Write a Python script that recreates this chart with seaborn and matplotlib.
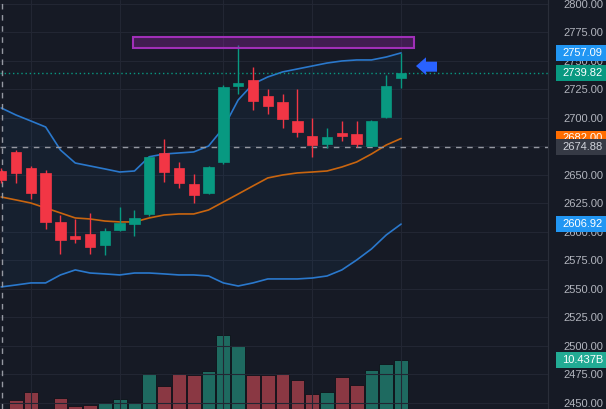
import numpy as np
import pandas as pd
import seaborn as sns
import matplotlib
matplotlib.use("Agg")
import matplotlib.pyplot as plt
from matplotlib.patches import Rectangle, Polygon
import matplotlib.transforms as mtransforms

# ---------------- data ----------------
opens = [2653.5, 2670.4, 2655.9, 2651.5, 2609.0, 2596.5, 2598.0, 2588.6, 2601.8, 2607.0,
         2615.5, 2669.6, 2656.4, 2642.1, 2634.0, 2661.1, 2728.3, 2733.3, 2719.6, 2713.8,
         2697.4, 2684.5, 2677.2, 2687.1, 2686.0, 2675.7, 2701.1, 2735.4]
highs = [2656.0, 2672.0, 2657.9, 2654.4, 2614.9, 2611.4, 2616.7, 2603.5, 2622.2, 2619.3,
         2667.0, 2681.3, 2661.7, 2650.9, 2658.0, 2729.0, 2764.0, 2745.0, 2725.2, 2721.0,
         2725.4, 2699.7, 2690.9, 2697.4, 2697.4, 2698.5, 2737.7, 2756.8]
lows = [2643.0, 2643.0, 2628.9, 2602.6, 2580.7, 2590.4, 2580.7, 2579.8, 2600.5, 2596.5,
        2614.0, 2644.0, 2638.9, 2625.4, 2633.0, 2660.0, 2721.0, 2707.0, 2703.5, 2691.5,
        2683.0, 2666.0, 2673.4, 2679.8, 2674.3, 2675.0, 2700.0, 2726.6]
closes = [2645.6, 2652.0, 2634.0, 2609.0, 2593.0, 2594.1, 2587.1, 2600.9, 2608.2, 2612.5,
          2666.0, 2652.9, 2643.2, 2632.5, 2657.3, 2727.5, 2730.4, 2714.9, 2710.8, 2699.1,
          2687.5, 2676.3, 2683.6, 2684.5, 2677.2, 2697.6, 2728.1, 2739.82]
volume_b = [2.3, 4.01, 5.30, 2.4, 4.34, 3.05, 3.21, 3.69, 4.17, 3.69,
            8.35, 6.26, 8.35, 8.03, 8.67, 14.45, 12.68, 8.03, 8.03, 8.35,
            7.23, 4.98, 5.30, 7.71, 6.42, 8.83, 9.79, 10.437]
bb_upper = [2708.8, 2702.6, 2697.4, 2692.1, 2671.9, 2660.5, 2657.9, 2655.3, 2652.6, 2653.5,
            2666.0, 2668.4, 2669.3, 2670.2, 2675.4, 2691.2, 2715.8, 2729.8, 2736.0, 2740.4,
            2743.0, 2745.6, 2748.2, 2750.0, 2750.9, 2750.9, 2753.5, 2757.09]
bb_basis = [2630.7, 2628.1, 2625.4, 2621.1, 2616.7, 2612.3, 2611.4, 2609.6, 2608.8, 2608.8,
            2612.3, 2614.9, 2615.8, 2615.8, 2619.3, 2626.3, 2633.3, 2640.4, 2647.4, 2650.0,
            2651.8, 2652.6, 2653.5, 2657.0, 2661.4, 2668.4, 2676.3, 2682.00]
bb_lower = [2551.8, 2553.5, 2555.3, 2555.3, 2562.3, 2566.7, 2564.0, 2563.2, 2562.3, 2564.0,
            2564.0, 2563.2, 2562.3, 2562.3, 2561.4, 2555.3, 2552.6, 2555.3, 2558.8, 2558.8,
            2558.8, 2559.6, 2561.4, 2566.7, 2575.4, 2585.1, 2597.4, 2606.92]
price_ticks = [2450, 2475, 2500, 2525, 2550, 2575, 2600, 2625, 2650, 2675,
               2700, 2725, 2750, 2775, 2800]
time_grid_idx = [2, 8, 15, 21, 27]
zone_low, zone_high = 2761.4, 2771.0
zone_start, zone_end = 8.9, 27.9
crosshair_price = 2674.88
crosshair_idx = 0.05

# ---------------- style ----------------
BG = "#161a25"
GRID = "#222633"
UP = "#089981"
DOWN = "#f23645"
VOL_UP = "#1e6a60"
VOL_DOWN = "#8a3843"
TXT = "#b2b5be"

sns.set_theme(style="dark")
plt.rcParams["font.family"] = ["Liberation Sans", "DejaVu Sans"]

n = len(opens)
idx = np.arange(n)
df = pd.DataFrame({"i": idx, "open": opens, "high": highs, "low": lows,
                   "close": closes, "vol": volume_b,
                   "upper": bb_upper, "basis": bb_basis, "lower": bb_lower})
df["dir"] = np.where(df["close"] >= df["open"], "up", "down")

W, H = 606, 409
fig = plt.figure(figsize=(W / 100, H / 100), dpi=100)
fig.patch.set_facecolor(BG)
axw = 548 / W
ax_vol = fig.add_axes([0, 0, axw, 1])
ax = fig.add_axes([0, 0, axw, 1], sharex=ax_vol)
ax_vol.set_facecolor(BG)
ax.patch.set_visible(False)

# volume
sns.barplot(data=df, x="i", y="vol", hue="dir", palette={"up": VOL_UP, "down": VOL_DOWN},
            dodge=False, native_scale=True, width=0.93, legend=False, ax=ax_vol,
            edgecolor="#0f1219", linewidth=0.6, saturation=1)
ax_vol.set_ylim(2.569, 68.24)
ax_vol.axis("off")

# grid
for p in price_ticks:
    ax.axhline(p, color=GRID, lw=0.8, zorder=0.5)
for g in time_grid_idx:
    ax.axvline(g, color=GRID, lw=0.8, zorder=0.5)

# Bollinger bands
ax.fill_between(df["i"], df["lower"], df["upper"], color="#2196f3", alpha=0.05, lw=0, zorder=1)
sns.lineplot(data=df, x="i", y="upper", ax=ax, color="#2a78cc", lw=1.2, zorder=2)
sns.lineplot(data=df, x="i", y="lower", ax=ax, color="#2a78cc", lw=1.2, zorder=2)
sns.lineplot(data=df, x="i", y="basis", ax=ax, color="#c9650f", lw=1.2, zorder=2)

# candles
ccol = np.where(df["dir"] == "up", UP, DOWN)
ax.vlines(df["i"], df["low"], df["high"], colors=ccol, lw=1.0, zorder=3)
body_bot = np.minimum(df["open"], df["close"])
body_h = np.maximum(np.abs(df["close"] - df["open"]), 1.3)
ax.bar(df["i"], body_h, bottom=body_bot, width=0.7, color=ccol, edgecolor=ccol,
       lw=0.5, zorder=4)

# zone rectangle
ax.add_patch(Rectangle((zone_start, zone_low), zone_end - zone_start, zone_high - zone_low,
                       facecolor=(0.61, 0.15, 0.69, 0.32), edgecolor="#a02fb8", lw=1.5,
                       zorder=5))

# price lines
last = closes[-1]
ax.axhline(last, color=UP, lw=1.0, ls=(0, (1, 2)), zorder=2.5)
ax.axhline(crosshair_price, color="#9598a1", lw=1.0, ls=(0, (4, 4)), zorder=2.5, clip_on=False)
ax.axvline(crosshair_idx, color="#9598a1", lw=1.0, ls=(0, (4, 4)), zorder=2.5)

ax.set_xlim(-0.081, 36.92)
ax.set_ylim(2444.7, 2803.5)

# axis labels
ax.set_xticks([])
ax.set_xlabel("")
ax.set_ylabel("")
ax.yaxis.tick_right()
ax.set_yticks(price_ticks)
ax.set_yticklabels([f"{p:.2f}" for p in price_ticks])
ax.tick_params(axis="y", length=0, pad=10.8, labelsize=8, labelcolor=TXT)
for s in ["top", "left", "bottom"]:
    ax.spines[s].set_visible(False)
ax.spines["right"].set_color("#2a2e39")
ax.spines["right"].set_linewidth(0.8)

# right-side value boxes
trans = mtransforms.blended_transform_factory(ax.transAxes, ax.transData)
box_x0 = 556 / 548
box_w = (W - 556) / 548 + 0.01
text_x = 562 / 548
box_h = 14.0


def value_box(value, label, face, tcolor, z, transform=trans, h=box_h):
    ax.add_patch(Rectangle((box_x0, value - h / 2), box_w, h, transform=transform,
                           facecolor=face, edgecolor="none", clip_on=False, zorder=z))
    ax.text(text_x, value, label, transform=transform, ha="left", va="center",
            fontsize=8, color=tcolor, clip_on=False, zorder=z + 0.1)


value_box(bb_basis[-1], f"{bb_basis[-1]:.2f}", "#ff6d00", "white", 6)
value_box(crosshair_price, f"{crosshair_price:.2f}", "#363a45", "#d1d4dc", 7)
value_box(bb_upper[-1], f"{bb_upper[-1]:.2f}", "#2196f3", "white", 6)
value_box(last, f"{last:.2f}", UP, "white", 6)
value_box(bb_lower[-1], f"{bb_lower[-1]:.2f}", "#2196f3", "white", 6)
vtrans = mtransforms.blended_transform_factory(ax.transAxes, ax_vol.transData)
value_box(volume_b[-1], f"{volume_b[-1]:.3f}B", "#22ab94", "white", 6,
          transform=vtrans, h=14.0 * 0.16057 * 1.14)

# blue arrow marker
pts = [(416, 66), (426, 57.3), (426, 61.7), (437, 61.7), (437, 71.7), (426, 71.7), (426, 75)]
fig.add_artist(Polygon([(x / W, 1 - y / H) for x, y in pts], closed=True,
                       transform=fig.transFigure, facecolor="#2962ff", edgecolor="none",
                       zorder=10))

fig.savefig("out.png", dpi=100, facecolor=BG)
